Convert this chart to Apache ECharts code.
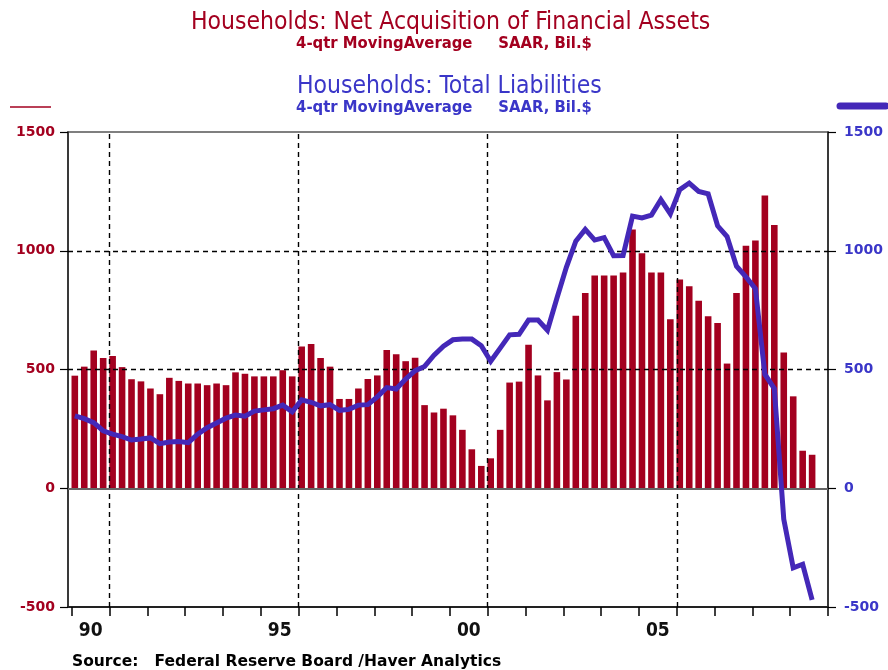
<!DOCTYPE html>
<html>
<head>
<meta charset="utf-8">
<script src="https://cdn.jsdelivr.net/npm/echarts@6/dist/echarts.min.js"></script>
<style>
  html, body { margin: 0; padding: 0; background: #ffffff; }
  #chart { width: 888px; height: 670px; }
</style>
</head>
<body>
<div id="chart"></div>
<script>
// ---- Data (quarterly, 1990Q1 .. 2009Q3) ----
const startYear = 1990;
// Households: Net Acquisition of Financial Assets, 4-qtr moving average, SAAR, Bil.$ (bars, left axis)
const assets = [
  474, 512, 580, 548,   557, 510, 459, 450,   420, 396, 465, 452,   441, 441, 434, 441,
  434, 488, 482, 471,   471, 471, 497, 471,   597, 607, 548, 512,   376, 376, 420, 460,
  475, 582, 564, 535,   550, 350, 319, 335,   307, 246, 164,  94,   126, 246, 445, 449,
  604, 475, 370, 489,   458, 726, 822, 896,   896, 896, 908, 1090,  989, 908, 908, 712,
  879, 851, 789, 724,   696, 525, 822, 1021,  1043, 1233, 1108, 572, 387, 158, 141
];
// Households: Total Liabilities, 4-qtr moving average, SAAR, Bil.$ (line, right axis)
const liabilities = [
  305, 293, 276, 242,   228, 217, 203, 207,   212, 188, 195, 197,   192, 228, 255, 275,
  295, 308, 303, 325,   330, 335, 350, 322,   372, 362, 347, 352,   328, 332, 350, 352,
  385, 424, 418, 460,   495, 513, 560, 598,   625, 628, 628, 600,   535, 590, 646, 648,
  708, 708, 665, 800,   930, 1040, 1090, 1045, 1055, 979, 980, 1146, 1138, 1150, 1215, 1155,
  1257, 1285, 1250, 1240, 1105, 1060, 935, 890, 840, 480, 420, -130, -335, -320, -470
];
// Axis labels
const yTicks = [-500, 0, 500, 1000, 1500];
const labelYears = [1990, 1995, 2000, 2005];
const tickLabels = ['90', '95', '00', '05'];
const tickYears = [];
for (let y = 1990; y <= 2010; y++) tickYears.push(y);
const gridYears = [1991, 1996, 2001, 2006];
const gridValues = [500, 1000];

// ---- Styling ----
const RED = '#A3001F';
const BLUE_LINE = '#4428B8';
const BLUE_TXT = '#3A36C8';
const NARROW = "'Liberation Sans Narrow', 'Arial Narrow', 'DejaVu Sans Condensed', sans-serif";
const WIDE = "'DejaVu Sans', 'Liberation Sans', sans-serif";
const barShift = 0.08;  // bars sit just right of each quarter boundary

const qx = (k) => startYear + k / 4 + barShift;
const barData = assets.map((v, k) => [qx(k), v]);
const lineData = liabilities.map((v, k) => [qx(k), v]);

const chart = echarts.init(document.getElementById('chart'), null, { renderer: 'canvas' });

const gridMarks = [];
gridValues.forEach(v => gridMarks.push({ yAxis: v }));
gridYears.forEach(y => gridMarks.push({ xAxis: y }));

const option = {
  backgroundColor: '#ffffff',
  animation: false,
  title: [
    { text: 'Households: Net Acquisition of Financial Assets', left: 186, top: 5,
      textStyle: { color: RED, fontFamily: NARROW, fontSize: 24.5, fontWeight: 'normal' } },
    { text: '4-qtr MovingAverage     SAAR, Bil.$', left: 'center', top: 30,
      textStyle: { color: RED, fontFamily: NARROW, fontSize: 16.5, fontWeight: 'bold' } },
    { text: 'Households: Total Liabilities', left: 292, top: 69,
      textStyle: { color: BLUE_TXT, fontFamily: NARROW, fontSize: 24.5, fontWeight: 'normal' } },
    { text: '4-qtr MovingAverage     SAAR, Bil.$', left: 'center', top: 94,
      textStyle: { color: BLUE_TXT, fontFamily: NARROW, fontSize: 16.5, fontWeight: 'bold' } },
    { text: 'Source:   Federal Reserve Board /Haver Analytics', left: 67, top: 649,
      textStyle: { color: '#000', fontFamily: WIDE, fontSize: 15.5, fontWeight: 'bold' } }
  ],
  graphic: [
    { type: 'line', shape: { x1: 10, y1: 107, x2: 51, y2: 107 }, style: { stroke: RED, lineWidth: 1.6 } },
    { type: 'line', shape: { x1: 840, y1: 106, x2: 886, y2: 106 }, style: { stroke: BLUE_LINE, lineWidth: 7, lineCap: 'round' } }
  ],
  grid: { left: 68, right: 60, top: 132, bottom: 63, show: true, borderColor: '#555', borderWidth: 1.5, backgroundColor: 'transparent' },
  xAxis: {
    type: 'value', min: 1989.9, max: 2010,
    axisLine: { show: true, onZero: false, lineStyle: { color: '#222', width: 2 } },
    axisTick: { show: true, customValues: tickYears, length: 9, lineStyle: { color: '#000', width: 1.5 } },
    axisLabel: {
      customValues: labelYears.map(y => y + 0.5),
      formatter: (v) => { const i = labelYears.indexOf(Math.round(v - 0.5)); return i >= 0 ? tickLabels[i] : ''; },
      color: '#111', fontFamily: NARROW, fontSize: 19, fontWeight: 'bold', margin: 15
    },
    splitLine: { show: false }
  },
  yAxis: [
    { type: 'value', min: -500, max: 1500, interval: 500, position: 'left',
      axisLine: { show: true, lineStyle: { color: '#222', width: 1.5 } },
      axisTick: { show: true, length: 8, lineStyle: { color: '#000', width: 1.2 } },
      axisLabel: { color: RED, fontFamily: WIDE, fontSize: 14, fontWeight: 'bold', margin: 13,
        formatter: (v) => yTicks.includes(v) ? String(v) : '' },
      splitLine: { show: false } },
    { type: 'value', min: -500, max: 1500, interval: 500, position: 'right',
      axisLine: { show: true, lineStyle: { color: '#222', width: 1.5 } },
      axisTick: { show: true, length: 8, lineStyle: { color: '#000', width: 1.2 } },
      axisLabel: { color: BLUE_TXT, fontFamily: WIDE, fontSize: 14, fontWeight: 'bold', margin: 16,
        formatter: (v) => yTicks.includes(v) ? String(v) : '' },
      splitLine: { show: false } }
  ],
  series: [
    { name: 'Net Acquisition of Financial Assets', type: 'bar', xAxisIndex: 0, yAxisIndex: 0,
      data: barData, barWidth: 6.6, itemStyle: { color: RED }, z: 2,
      markLine: {
        silent: true, symbol: ['none', 'none'], label: { show: false }, z: 5,
        lineStyle: { color: '#000', type: [5, 4], width: 1.4 },
        data: gridMarks.concat([{ yAxis: 0, lineStyle: { color: '#666', type: 'solid', width: 2 } }])
      } },
    { name: 'Total Liabilities', type: 'line', xAxisIndex: 0, yAxisIndex: 1,
      data: lineData, showSymbol: false, symbol: 'none', z: 10,
      lineStyle: { color: BLUE_LINE, width: 5, join: 'miter' } }
  ]
};
chart.setOption(option);
</script>
</body>
</html>
